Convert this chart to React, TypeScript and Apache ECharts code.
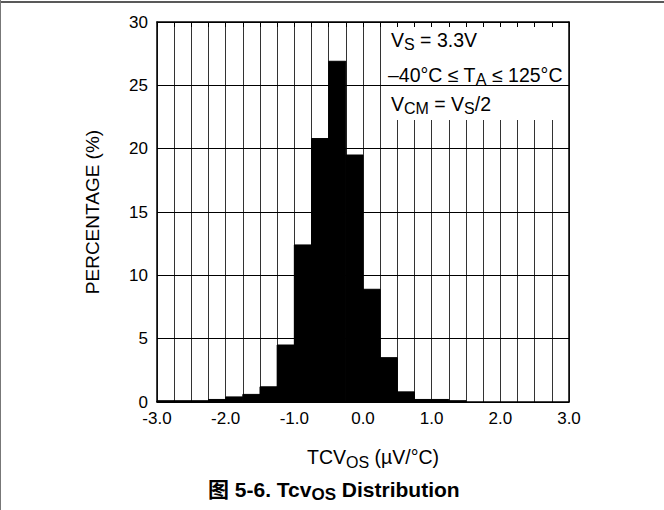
import React, { useEffect, useRef } from "react";
import * as echarts from "echarts";

const binStarts = [-3.0, -2.75, -2.5, -2.25, -2.0, -1.75, -1.5, -1.25, -1.0, -0.75, -0.5, -0.25, 0.0, 0.25, 0.5, 0.75, 1.0, 1.25];
const percentages = [0.1, 0.1, 0.1, 0.2, 0.4, 0.6, 1.2, 4.5, 12.4, 20.8, 26.9, 19.5, 8.9, 3.5, 0.8, 0.2, 0.2, 0.1];
const binWidth = 0.25;
const xMin = -3;
const xMax = 3;
const yMin = 0;
const yMax = 30;
const yStep = 5;

const FONT = "'Liberation Sans', Arial, 'Noto Sans CJK SC', sans-serif";

export default function App() {
  const ref = useRef<HTMLDivElement>(null);
  useEffect(() => {
    document.body.style.margin = "0";
    if (!ref.current) return;
    const chart = echarts.init(ref.current, undefined, { renderer: "svg" });
    const data = binStarts.map((s, i) => [s, percentages[i]]);
    const legendRich = {
      n: { fontSize: 19.5, fontFamily: FONT, color: "#000", lineHeight: 24, verticalAlign: "top" },
      s: { fontSize: 16, fontFamily: FONT, color: "#000", lineHeight: 24, verticalAlign: "top", padding: [6, 0, 0, 0] },
    };
    chart.setOption({
      animation: false,
      grid: { left: 157, top: 22, width: 412, height: 380, containLabel: false },
      xAxis: [
        {
          type: "value",
          min: xMin,
          max: xMax,
          interval: binWidth,
          position: "bottom",
          z: 0,
          axisLine: { show: true, onZero: false, lineStyle: { color: "#000", width: 1.5 } },
          axisTick: { show: false },
          splitLine: { show: true, lineStyle: { color: "#333", width: 1 } },
          axisLabel: {
            color: "#000",
            fontSize: 17,
            fontFamily: FONT,
            margin: 8,
            formatter: (v: number) => (Number.isInteger(v) ? v.toFixed(1) : ""),
          },
        },
        {
          type: "value",
          min: xMin,
          max: xMax,
          interval: binWidth,
          position: "top",
          z: 10,
          axisLine: { show: true, onZero: false, lineStyle: { color: "#000", width: 1.5 } },
          axisTick: { show: true, inside: true, length: 5, lineStyle: { color: "#000", width: 1 } },
          splitLine: { show: false },
          axisLabel: { show: false },
        },
      ],
      yAxis: [
        {
          type: "value",
          min: yMin,
          max: yMax,
          interval: yStep,
          position: "left",
          z: 10,
          axisLine: { show: true, onZero: false, lineStyle: { color: "#000", width: 1.5 } },
          axisTick: { show: false },
          splitLine: { show: true, lineStyle: { color: "#000", width: 1 } },
          axisLabel: { color: "#000", fontSize: 17, fontFamily: FONT, margin: 9 },
        },
        {
          type: "value",
          min: yMin,
          max: yMax,
          interval: yStep,
          position: "right",
          z: 10,
          axisLine: { show: true, onZero: false, lineStyle: { color: "#000", width: 1.5 } },
          axisTick: { show: false },
          splitLine: { show: false },
          axisLabel: { show: false },
        },
      ],
      series: [
        {
          type: "custom",
          xAxisIndex: 0,
          yAxisIndex: 0,
          z: 3,
          data,
          renderItem: (params: any, api: any) => {
            const x0 = api.value(0);
            const v = api.value(1);
            const p0 = api.coord([x0, v]);
            const p1 = api.coord([x0 + binWidth, 0]);
            return {
              type: "rect",
              shape: { x: p0[0], y: p0[1], width: p1[0] - p0[0], height: p1[1] - p0[1] },
              style: { fill: "#000", stroke: "#000", lineWidth: 1 },
            };
          },
        },
      ],
      graphic: [
        { type: "line", z: 20, shape: { x1: 0, y1: 2, x2: 664, y2: 2 }, style: { stroke: "#222", lineWidth: 1.5 } },
        { type: "line", z: 20, shape: { x1: 0.5, y1: 0, x2: 0.5, y2: 510 }, style: { stroke: "#777", lineWidth: 1 } },
        { type: "rect", z: 5, shape: { x: 382, y: 26, width: 186, height: 94 }, style: { fill: "#fff" } },
        {
          type: "text",
          z: 6,
          x: 391,
          y: 30,
          style: { text: "{n|V}{s|S}{n| = 3.3V}", rich: legendRich },
        },
        {
          type: "text",
          z: 6,
          x: 388,
          y: 65,
          style: { text: "{n|–40°C ≤ T}{s|A}{n| ≤ 125°C}", rich: legendRich },
        },
        {
          type: "text",
          z: 6,
          x: 391,
          y: 94,
          style: { text: "{n|V}{s|CM}{n| = V}{s|S}{n|/2}", rich: legendRich },
        },
        {
          type: "text",
          z: 6,
          x: 92,
          y: 212,
          rotation: Math.PI / 2,
          style: {
            text: "PERCENTAGE (%)",
            fontSize: 19,
            fontFamily: FONT,
            fill: "#000",
            align: "center",
            verticalAlign: "middle",
          },
        },
        {
          type: "text",
          z: 6,
          x: 307,
          y: 447,
          style: {
            text: "{n|TCV}{s|OS}{n| (µV/°C)}",
            rich: {
              n: { fontSize: 19.5, fontFamily: FONT, color: "#000", lineHeight: 24, verticalAlign: "top" },
              s: { fontSize: 16, fontFamily: FONT, color: "#000", lineHeight: 24, verticalAlign: "top", padding: [7, 0, 0, 0] },
            },
          },
        },
        {
          type: "text",
          z: 6,
          x: 208,
          y: 479,
          style: {
            text: "{n|图 5-6. Tcv}{s|OS}{n| Distribution}",
            rich: {
              n: { fontSize: 21, fontWeight: "bold", fontFamily: FONT, color: "#000", lineHeight: 25, verticalAlign: "top" },
              s: { fontSize: 17, fontWeight: "bold", fontFamily: FONT, color: "#000", lineHeight: 25, verticalAlign: "top", padding: [7, 0, 0, 0] },
            },
          },
        },
      ],
    });
    return () => chart.dispose();
  }, []);
  return <div ref={ref} style={{ width: 664, height: 510 }} />;
}
